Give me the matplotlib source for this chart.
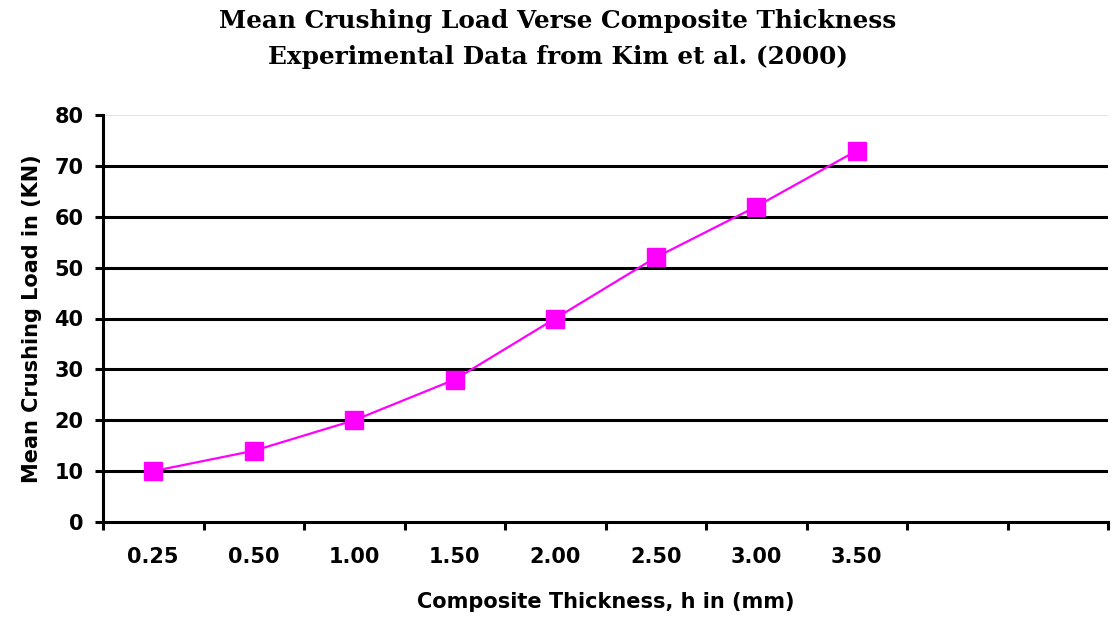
import matplotlib
matplotlib.use("Agg")
import matplotlib.pyplot as plt
import numpy as np

# data
thickness = ["0.25", "0.50", "1.00", "1.50", "2.00", "2.50", "3.00", "3.50", "", ""]
load_kn = [10, 14, 20, 28, 40, 52, 62, 73]
y_ticks = [0, 10, 20, 30, 40, 50, 60, 70, 80]

plt.rcParams['font.family'] = ['DejaVu Sans']

fig = plt.figure(figsize=(11.12, 6.31), dpi=100)
ax = fig.add_axes([103 / 1112, 1 - 522 / 631, 1005 / 1112, 407 / 631])

x = np.arange(len(load_kn)) + 0.5
ax.plot(x, load_kn, color='#FF00FF', lw=1.6, marker='s', markersize=13,
        markerfacecolor='#FF00FF', markeredgecolor='#FF00FF', zorder=5, clip_on=False)

ax.set_xlim(0, len(thickness))
ax.set_ylim(0, 80)

# gridlines
for v in y_ticks[1:-1]:
    ax.axhline(v, color='black', lw=2.2, zorder=1)
ax.axhline(80, color='#DDDDDD', lw=1.2, zorder=1)

ax.spines['right'].set_visible(False)
ax.spines['top'].set_visible(False)
ax.spines['left'].set_linewidth(2.2)
ax.spines['bottom'].set_linewidth(2.2)

ax.set_yticks(y_ticks)
ax.set_yticklabels([str(v) for v in y_ticks], fontsize=15, fontweight='bold')
ax.set_xticks(np.arange(len(thickness) + 1))
ax.set_xticklabels([])
ax.set_xticks(np.arange(len(thickness)) + 0.5, minor=True)
ax.set_xticklabels(thickness, minor=True, fontsize=15, fontweight='bold')
ax.tick_params(axis='x', which='major', direction='out', length=6, width=2.2)
ax.tick_params(axis='x', which='minor', length=0, pad=18)
ax.tick_params(axis='y', direction='out', length=6, width=2.2, pad=8)

ax.set_xlabel("Composite Thickness, h in (mm)", fontsize=15, fontweight='bold', labelpad=18)
ax.set_ylabel("Mean Crushing Load in (KN)", fontsize=15, fontweight='bold', labelpad=9)

fig.text(558 / 1112, 1 - 39 / 631,
         "Mean Crushing Load Verse Composite Thickness\nExperimental Data from Kim et al. (2000)",
         ha='center', va='center', fontsize=17.8, fontweight='bold',
         family=['DejaVu Serif'], linespacing=1.6)

fig.savefig("out.png", dpi=100)
